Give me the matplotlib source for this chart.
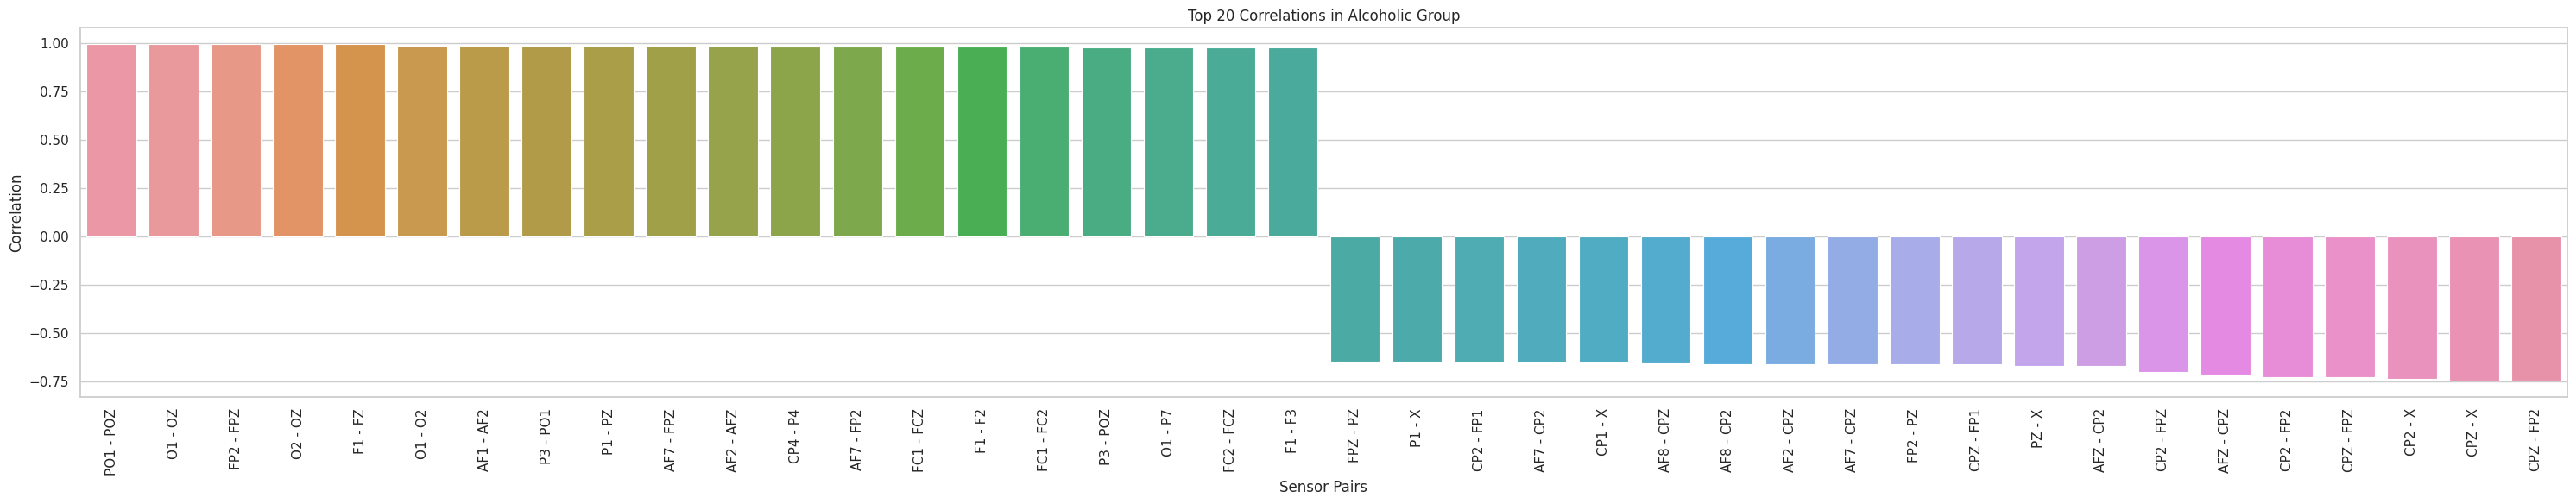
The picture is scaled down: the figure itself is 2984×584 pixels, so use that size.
import numpy as np
import matplotlib
matplotlib.use('Agg')
import matplotlib.pyplot as plt
import seaborn as sns

pairs = ['PO1 - POZ', 'O1 - OZ', 'FP2 - FPZ', 'O2 - OZ', 'F1 - FZ', 'O1 - O2', 'AF1 - AF2', 'P3 - PO1',
         'P1 - PZ', 'AF7 - FPZ', 'AF2 - AFZ', 'CP4 - P4', 'AF7 - FP2', 'FC1 - FCZ', 'F1 - F2', 'FC1 - FC2',
         'P3 - POZ', 'O1 - P7', 'FC2 - FCZ', 'F1 - F3',
         'FPZ - PZ', 'P1 - X', 'CP2 - FP1', 'AF7 - CP2', 'CP1 - X', 'AF8 - CPZ', 'AF8 - CP2', 'AF2 - CPZ',
         'AF7 - CPZ', 'FP2 - PZ', 'CPZ - FP1', 'PZ - X', 'AFZ - CP2', 'CP2 - FPZ', 'AFZ - CPZ', 'CP2 - FP2',
         'CPZ - FPZ', 'CP2 - X', 'CPZ - X', 'CPZ - FP2']
top_corr = [0.995, 0.995, 0.995, 0.995, 0.995, 0.990, 0.990, 0.990, 0.990, 0.990,
            0.990, 0.985, 0.985, 0.985, 0.985, 0.985, 0.981, 0.981, 0.981, 0.981]
bottom_corr = [-0.647, -0.647, -0.652, -0.652, -0.652, -0.656, -0.660, -0.660, -0.660, -0.663,
               -0.663, -0.670, -0.673, -0.704, -0.714, -0.728, -0.728, -0.737, -0.745, -0.745]
corr = top_corr + bottom_corr

# bar colours, one per pair
bar_rgb = [(236, 151, 166), (233, 152, 155), (231, 152, 135), (226, 148, 102), (213, 148, 78),
           (200, 153, 78), (186, 155, 74), (178, 155, 72), (170, 158, 72), (160, 160, 72),
           (150, 163, 74), (140, 165, 74), (125, 168, 75), (108, 172, 75), (74, 174, 85),
           (74, 174, 115), (74, 172, 130), (74, 172, 140), (74, 172, 150), (74, 170, 155),
           (76, 170, 165), (76, 170, 170), (78, 172, 178), (80, 172, 188), (80, 172, 195),
           (83, 171, 205), (87, 171, 218), (122, 172, 226), (148, 172, 230), (168, 172, 232),
           (183, 168, 233), (195, 165, 235), (205, 158, 228), (218, 148, 232), (229, 138, 226),
           (231, 140, 215), (233, 145, 200), (234, 146, 190), (233, 146, 180), (232, 146, 170)]

sns.set_theme(style='whitegrid')

fig = plt.figure(figsize=(29.84, 5.84), dpi=100)
ax = fig.add_axes([93 / 2984, 1 - 460 / 584, 2881 / 2984, 428 / 584])

colors = np.array(bar_rgb) / 255
ax.bar(np.arange(len(pairs)), corr, width=0.8, color=colors, edgecolor='white', linewidth=0.8)
ax.set_xlim(-0.5, len(pairs) - 0.5)
ax.set_xticks(np.arange(len(pairs)))
ax.set_xticklabels(pairs, rotation=90)
ax.tick_params(labelsize=11)
ax.set_xlabel('Sensor Pairs', fontsize=12)
ax.set_ylabel('Correlation', fontsize=12)
ax.set_title('Top 20 Correlations in Alcoholic Group', fontsize=12)
ax.xaxis.grid(False)

fig.savefig('out.png', dpi=100)
